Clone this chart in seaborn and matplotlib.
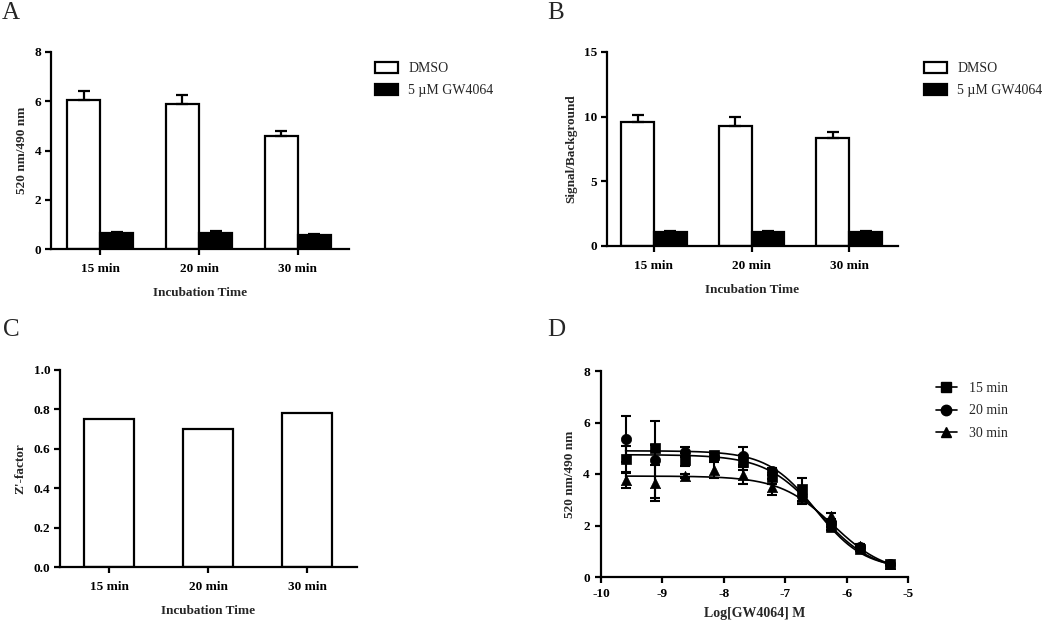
import numpy as np
import pandas as pd
import matplotlib
matplotlib.use("Agg")
import matplotlib.pyplot as plt
from matplotlib.lines import Line2D
from matplotlib.patches import Patch
import seaborn as sns

# ---------------- data ----------------
times = ["15 min", "20 min", "30 min"]
treatments = ["DMSO", "5 µM GW4064"]

ratio_dmso = [6.05, 5.87, 4.58]
ratio_dmso_err = [0.37, 0.40, 0.22]
ratio_gw = [0.65, 0.65, 0.57]
ratio_gw_err = [0.05, 0.07, 0.05]

sb_dmso = [9.55, 9.30, 8.35]
sb_dmso_err = [0.60, 0.65, 0.45]
sb_gw = [1.05, 1.05, 1.05]
sb_gw_err = [0.10, 0.12, 0.10]

zfactor = [0.75, 0.70, 0.78]

log_conc = [-9.6, -9.12, -8.64, -8.16, -7.69, -7.21, -6.73, -6.26, -5.78, -5.30]
resp_15 = [4.58, 5.00, 4.55, 4.75, 4.45, 3.90, 3.40, 1.95, 1.10, 0.50]
err_15 = [0.50, 0.12, 0.25, 0.10, 0.30, 0.30, 0.45, 0.12, 0.08, 0.05]
resp_20 = [5.35, 4.55, 4.85, 4.65, 4.70, 4.10, 3.15, 2.10, 1.15, 0.52]
err_20 = [0.90, 1.50, 0.20, 0.15, 0.35, 0.15, 0.20, 0.15, 0.08, 0.05]
resp_30 = [3.75, 3.65, 3.92, 4.15, 3.95, 3.50, 3.10, 2.35, 1.20, 0.50]
err_30 = [0.28, 0.70, 0.08, 0.30, 0.33, 0.30, 0.25, 0.12, 0.08, 0.05]

# fitted 4-parameter logistic curves (top, bottom, logIC50, hill)
fit_top = [4.75, 4.90, 3.92]
fit_bottom = [0.20, 0.30, 0.10]
fit_logic50 = [-6.45, -6.50, -6.22]
fit_hill = [1.00, 1.10, 1.00]

# ---------------- style ----------------
sns.set_style("ticks")
plt.rcParams["font.family"] = ["Liberation Serif", "DejaVu Serif"]
plt.rcParams["font.weight"] = "bold"
plt.rcParams["axes.labelweight"] = "bold"
plt.rcParams["axes.unicode_minus"] = False
plt.rcParams["axes.linewidth"] = 1.6
plt.rcParams["xtick.major.width"] = 1.6
plt.rcParams["ytick.major.width"] = 1.6
plt.rcParams["xtick.major.size"] = 4
plt.rcParams["ytick.major.size"] = 4
plt.rcParams["xtick.color"] = "black"
plt.rcParams["ytick.color"] = "black"
plt.rcParams["axes.edgecolor"] = "black"

W, H = 1050, 624
fig = plt.figure(figsize=(W / 100, H / 100), dpi=100)


def add_ax(l, t, r, b):
    return fig.add_axes([l / W, 1 - b / H, (r - l) / W, (b - t) / H])


axA = add_ax(51, 52, 349, 249)
axB = add_ax(607, 52, 898, 246)
axC = add_ax(60, 370, 357, 567)
axD = add_ax(601, 371, 908, 577)

pal = {treatments[0]: "white", treatments[1]: "black"}
TICK_FS = 9.5
LAB_FS = 9.5
LEG_FS = 10
leg_prop = {"family": ["Liberation Serif", "DejaVu Serif"],
            "weight": "normal", "size": LEG_FS}


def grouped_bars(ax, dmso, dmso_err, gw, gw_err, yticks, ylabel, xlim):
    df = pd.DataFrame({
        "time": times + times,
        "treat": [treatments[0]] * 3 + [treatments[1]] * 3,
        "val": dmso + gw,
    })
    sns.barplot(data=df, x="time", y="val", hue="treat", order=times,
                hue_order=treatments, palette=pal, edgecolor="black",
                linewidth=1.6, width=0.67, errorbar=None, legend=False,
                saturation=1, ax=ax)
    for cont, errs in zip(ax.containers, [dmso_err, gw_err]):
        xs = [p.get_x() + p.get_width() / 2 for p in cont.patches]
        hs = [p.get_height() for p in cont.patches]
        ax.errorbar(xs, hs, yerr=[np.zeros(len(errs)), errs], fmt="none",
                    ecolor="black", elinewidth=1.6, capsize=4, capthick=1.6,
                    zorder=1)
    ax.set_ylim(yticks[0], yticks[-1])
    ax.set_yticks(yticks)
    ax.set_xlim(*xlim)
    ax.set_ylabel(ylabel, fontsize=LAB_FS, labelpad=5)
    ax.set_xlabel("Incubation Time", fontsize=LAB_FS, labelpad=9)
    ax.tick_params(axis="x", labelsize=TICK_FS, pad=6)
    ax.tick_params(axis="y", labelsize=TICK_FS, pad=3)
    sns.despine(ax=ax)
    handles = [Patch(facecolor="white", edgecolor="black", linewidth=1.6),
               Patch(facecolor="black", edgecolor="black", linewidth=1.6)]
    return handles


hA = grouped_bars(axA, ratio_dmso, ratio_dmso_err, ratio_gw, ratio_gw_err,
                  [0, 2, 4, 6, 8], "520 nm/490 nm", (-0.5, 2.52))
hB = grouped_bars(axB, sb_dmso, sb_dmso_err, sb_gw, sb_gw_err,
                  [0, 5, 10, 15], "Signal/Background", (-0.48, 2.5))

leg_kw = dict(frameon=False, borderpad=0, handlelength=1.65, handleheight=0.85,
              handletextpad=0.75, labelspacing=0.62, loc="upper left",
              prop=leg_prop)
axA.legend(hA, treatments, bbox_to_anchor=(368 / W, 1 - 55 / H),
           bbox_transform=fig.transFigure, **leg_kw)
axB.legend(hB, treatments, bbox_to_anchor=(917 / W, 1 - 55 / H),
           bbox_transform=fig.transFigure, **leg_kw)

# ---------------- C ----------------
dfc = pd.DataFrame({"time": times, "z": zfactor})
sns.barplot(data=dfc, x="time", y="z", order=times, color="white",
            edgecolor="black", linewidth=1.6, width=0.5, errorbar=None,
            saturation=1, ax=axC)
axC.set_ylim(0, 1.0)
axC.set_yticks([0.0, 0.2, 0.4, 0.6, 0.8, 1.0])
axC.set_yticklabels(["0.0", "0.2", "0.4", "0.6", "0.8", "1.0"])
axC.set_xlim(-0.495, 2.505)
axC.set_ylabel("Z'-factor", fontsize=LAB_FS, labelpad=5)
axC.set_xlabel("Incubation Time", fontsize=LAB_FS, labelpad=9)
axC.tick_params(axis="x", labelsize=TICK_FS, pad=6)
axC.tick_params(axis="y", labelsize=TICK_FS, pad=3)
sns.despine(ax=axC)

# ---------------- D ----------------
series = [("15 min", resp_15, err_15, "s"),
          ("20 min", resp_20, err_20, "o"),
          ("30 min", resp_30, err_30, "^")]
xfit = np.linspace(log_conc[0], log_conc[-1], 300)
legD = []
for i, (name, resp, err, mk) in enumerate(series):
    yfit = fit_bottom[i] + (fit_top[i] - fit_bottom[i]) / (
        1 + 10 ** ((xfit - fit_logic50[i]) * fit_hill[i]))
    sns.lineplot(x=xfit, y=yfit, color="black", linewidth=1.2, ax=axD,
                 legend=False)
    axD.errorbar(log_conc, resp, yerr=err, fmt="none", ecolor="black",
                 elinewidth=1.5, capsize=3.5, capthick=1.5, zorder=2)
    sns.scatterplot(x=log_conc, y=resp, marker=mk, color="black", s=55,
                    edgecolor="black", linewidth=0.5, ax=axD, zorder=3,
                    legend=False)
    legD.append(Line2D([0], [0], color="black", linewidth=1.2, marker=mk,
                       markersize=7.5, markerfacecolor="black"))

axD.set_xlim(-10, -5)
axD.set_ylim(0, 8)
axD.set_xticks([-10, -9, -8, -7, -6, -5])
axD.set_yticks([0, 2, 4, 6, 8])
axD.set_xlabel("Log[GW4064] M", fontsize=LAB_FS + 0.5, labelpad=5)
axD.set_ylabel("520 nm/490 nm", fontsize=LAB_FS, labelpad=5)
axD.tick_params(axis="both", labelsize=TICK_FS, pad=4)
sns.despine(ax=axD)
axD.legend(legD, [s[0] for s in series], frameon=False, borderpad=0,
           handlelength=1.5, handletextpad=0.9, labelspacing=0.68,
           numpoints=1, loc="upper left", bbox_to_anchor=(929 / W, 1 - 375 / H),
           bbox_transform=fig.transFigure, prop=leg_prop)

# panel letters
for letter, (px, py) in zip("ABCD", [(2, 2), (547, 2), (3, 319), (547, 319)]):
    fig.text(px / W, 1 - py / H, letter, fontsize=18, fontweight="normal",
             ha="left", va="top")

fig.savefig("out.png", dpi=100)
